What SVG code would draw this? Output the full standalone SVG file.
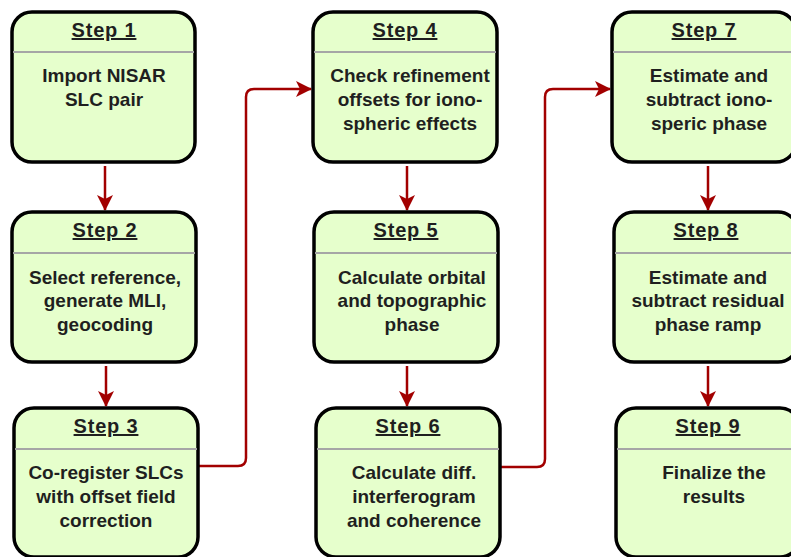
<svg xmlns="http://www.w3.org/2000/svg" width="791" height="557" viewBox="0 0 791 557">
<defs>
<style>
.box{fill:#E6FFCC;stroke:#000;stroke-width:3.5}
.div{stroke:#A6A6A6;stroke-width:2}
.t{font-family:"Liberation Sans",Arial,sans-serif;font-weight:bold;fill:#1f1f1f;text-anchor:middle}
.h{font-size:20px;letter-spacing:0.8px;text-decoration:underline}
.b{font-size:19px}
.c{fill:none;stroke:#A20000;stroke-width:2.5}
</style>
<marker id="ah" viewBox="0 0 16 16" refX="15" refY="8" markerWidth="16" markerHeight="16" markerUnits="userSpaceOnUse" orient="auto">
<path d="M0,0 L16,8 L0,16 L4,8 Z" fill="#A20000"/>
</marker>
</defs>
<g id="connectors">
<path class="c" d="M105,166 V210" marker-end="url(#ah)"/>
<path class="c" d="M106,366 V406" marker-end="url(#ah)"/>
<path class="c" d="M407,166 V210" marker-end="url(#ah)"/>
<path class="c" d="M407,366 V406" marker-end="url(#ah)"/>
<path class="c" d="M708,166 V210" marker-end="url(#ah)"/>
<path class="c" d="M708,366 V406" marker-end="url(#ah)"/>
<path class="c" d="M199,466 H238 Q246,466 246,458 V97 Q246,89 254,89 H311" marker-end="url(#ah)"/>
<path class="c" d="M501,467 H537 Q545,467 545,459 V97 Q545,89 553,89 H610" marker-end="url(#ah)"/>
</g>
<g id="step1"><rect class="box" x="12" y="12" width="183" height="150" rx="20"/><line class="div" x1="13" y1="52" x2="194" y2="52"/><text class="t h" x="104" y="37">Step 1</text><text class="t b" x="104" y="82">Import NISAR</text><text class="t b" x="104" y="106">SLC pair</text></g>
<g id="step2"><rect class="box" x="12" y="212" width="184" height="150" rx="20"/><line class="div" x1="13" y1="253" x2="195" y2="253"/><text class="t h" x="105" y="237">Step 2</text><text class="t b" x="105" y="284">Select reference,</text><text class="t b" x="105" y="307">generate MLI,</text><text class="t b" x="105" y="331">geocoding</text></g>
<g id="step3"><rect class="box" x="14" y="408" width="184" height="149" rx="20"/><line class="div" x1="15" y1="449" x2="197" y2="449"/><text class="t h" x="106" y="433">Step 3</text><text class="t b" x="106" y="479">Co-register SLCs</text><text class="t b" x="106" y="503">with offset field</text><text class="t b" x="106" y="527">correction</text></g>
<g id="step4"><rect class="box" x="313" y="12" width="184" height="150" rx="20"/><line class="div" x1="314" y1="52" x2="496" y2="52"/><text class="t h" x="405" y="37">Step 4</text><text class="t b" x="410" y="82">Check refinement</text><text class="t b" x="410" y="106">offsets for iono-</text><text class="t b" x="410" y="130">spheric effects</text></g>
<g id="step5"><rect class="box" x="314" y="212" width="184" height="150" rx="20"/><line class="div" x1="315" y1="253" x2="497" y2="253"/><text class="t h" x="406" y="237">Step 5</text><text class="t b" x="412" y="284">Calculate orbital</text><text class="t b" x="412" y="307">and topographic</text><text class="t b" x="412" y="331">phase</text></g>
<g id="step6"><rect class="box" x="316" y="408" width="184" height="149" rx="20"/><line class="div" x1="317" y1="449" x2="499" y2="449"/><text class="t h" x="408" y="433">Step 6</text><text class="t b" x="414" y="479">Calculate diff.</text><text class="t b" x="414" y="503">interferogram</text><text class="t b" x="414" y="527">and coherence</text></g>
<g id="step7"><rect class="box" x="612" y="12" width="184" height="150" rx="20"/><line class="div" x1="613" y1="52" x2="795" y2="52"/><text class="t h" x="704" y="37">Step 7</text><text class="t b" x="709" y="82">Estimate and</text><text class="t b" x="709" y="106">subtract iono-</text><text class="t b" x="709" y="130">speric phase</text></g>
<g id="step8"><rect class="box" x="614" y="212" width="184" height="150" rx="20"/><line class="div" x1="615" y1="253" x2="797" y2="253"/><text class="t h" x="706" y="237">Step 8</text><text class="t b" x="708" y="284">Estimate and</text><text class="t b" x="708" y="307">subtract residual</text><text class="t b" x="708" y="331">phase ramp</text></g>
<g id="step9"><rect class="box" x="616" y="408" width="184" height="149" rx="20"/><line class="div" x1="617" y1="449" x2="799" y2="449"/><text class="t h" x="708" y="433">Step 9</text><text class="t b" x="714" y="479">Finalize the</text><text class="t b" x="714" y="503">results</text></g>
</svg>
